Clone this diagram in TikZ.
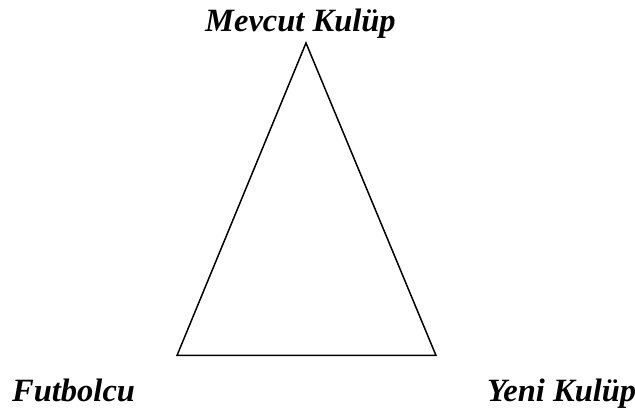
\documentclass[tikz,border=0pt]{standalone}
\usepackage{fontspec}
\setmainfont{Liberation Serif}
\begin{document}
\begin{tikzpicture}[x=1pt,y=1pt,
  lbl/.style={font=\fontsize{32.5}{38}\selectfont\bfseries\itshape, inner sep=0pt, anchor=base west},
  edge/.style={line width=1.5pt, line join=miter}]
\useasboundingbox (0,0) rectangle (635,411);
\coordinate (top) at (306,368);
\coordinate (bl) at (177,55.5);
\coordinate (br) at (436,55.5);
\draw[edge] (top) -- (bl) -- (br) -- cycle;
\node[lbl] (mk) at (205,379) {Mevcut Kulüp};
\node[lbl] (fb) at (12,9.5) {Futbolcu};
\node[lbl] (yk) at (487,9.5) {Yeni Kulüp};
\end{tikzpicture}
\end{document}
